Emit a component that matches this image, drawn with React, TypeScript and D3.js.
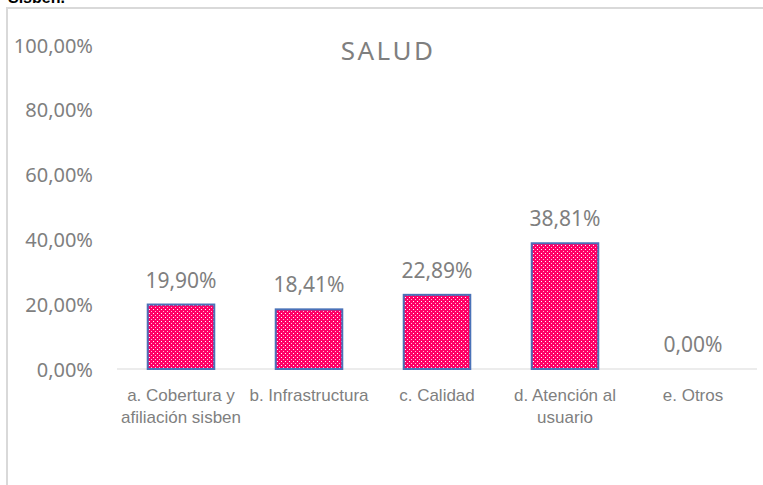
import React, { useEffect, useRef } from 'react';
import * as d3 from 'd3';

const categories = [
  'a. Cobertura y afiliación sisben',
  'b. Infrastructura',
  'c. Calidad',
  'd. Atención al usuario',
  'e. Otros'
];
const values = [19.9, 18.41, 22.89, 38.81, 0];
const yTicks = [0, 20, 40, 60, 80, 100];

const W = 763;
const H = 485;

const fmt = (v: number) => v.toFixed(2).replace('.', ',') + '%';

const App: React.FC = () => {
  const svgRef = useRef<SVGSVGElement>(null);

  useEffect(() => {
    if (!svgRef.current) return;
    const svg = d3.select(svgRef.current);
    svg.selectAll('*').remove();

    // dotted fill like the Excel pattern
    const defs = svg.append('defs');
    const pat = defs.append('pattern')
      .attr('id', 'dots')
      .attr('width', 4)
      .attr('height', 4)
      .attr('patternUnits', 'userSpaceOnUse');
    pat.append('rect').attr('width', 4).attr('height', 4).attr('fill', '#ff0066');
    pat.append('rect').attr('x', 1).attr('y', 1).attr('width', 1).attr('height', 1).attr('fill', '#ffffff');
    pat.append('rect').attr('x', 3).attr('y', 3).attr('width', 1).attr('height', 1).attr('fill', '#ffc2da');

    // cut-off text from the page above
    svg.append('text')
      .attr('x', 8)
      .attr('y', 3)
      .style('font-family', 'Liberation Sans, Arial, sans-serif')
      .style('font-size', '16px')
      .style('font-weight', 'bold')
      .style('fill', '#000')
      .text('Sisben.');

    // chart frame
    svg.append('rect')
      .attr('x', 7)
      .attr('y', 8)
      .attr('width', 770)
      .attr('height', 500)
      .attr('fill', 'none')
      .attr('stroke', '#d9d9d9')
      .attr('stroke-width', 2);

    const x = d3.scaleBand<string>()
      .domain(categories)
      .range([117, 757])
      .paddingInner(0.48)
      .paddingOuter(0.24);

    const y = d3.scaleLinear()
      .domain([0, 100])
      .range([369, 45]);

    // title
    svg.append('text')
      .attr('x', 388)
      .attr('y', 60)
      .attr('text-anchor', 'middle')
      .style('font-family', 'Noto Sans, sans-serif')
      .style('font-size', '26px')
      .style('letter-spacing', '2.5px')
      .style('fill', '#7f7f7f')
      .text('SALUD');

    // y axis labels
    const yAxis = svg.append('g')
      .attr('transform', 'translate(93,0)')
      .call(d3.axisLeft(y).tickValues(yTicks).tickSize(0).tickPadding(0).tickFormat(d => fmt(+d)));
    yAxis.select('.domain').remove();
    yAxis.selectAll('text')
      .attr('dy', '0.35em')
      .style('font-family', 'Noto Sans, sans-serif')
      .style('font-size', '20px')
      .style('fill', '#7f7f7f');

    // baseline
    svg.append('line')
      .attr('x1', 117)
      .attr('x2', 757)
      .attr('y1', y(0))
      .attr('y2', y(0))
      .attr('stroke', '#d9d9d9')
      .attr('stroke-width', 1);

    // bars
    svg.selectAll('.bar')
      .data(values)
      .enter().append('rect')
      .attr('class', 'bar')
      .attr('x', (d, i) => x(categories[i])!)
      .attr('y', d => y(d))
      .attr('width', x.bandwidth())
      .attr('height', d => y(0) - y(d))
      .attr('fill', 'url(#dots)')
      .attr('stroke', '#4a72b8')
      .attr('stroke-width', d => (d > 0 ? 2 : 0));

    // value labels
    svg.selectAll('.val')
      .data(values)
      .enter().append('text')
      .attr('class', 'val')
      .attr('x', (d, i) => x(categories[i])! + x.bandwidth() / 2)
      .attr('y', d => y(d) - 17)
      .attr('text-anchor', 'middle')
      .style('font-family', 'Noto Sans, sans-serif')
      .style('font-size', '21px')
      .style('fill', '#7f7f7f')
      .text(d => fmt(d));

    // category labels, wrapped
    const step = x.step();
    categories.forEach(c => {
      const cx = x(c)! + x.bandwidth() / 2;
      const t = svg.append('text')
        .attr('x', cx)
        .attr('y', 401)
        .attr('text-anchor', 'middle')
        .style('font-family', 'Liberation Sans Narrow, Liberation Sans, sans-serif')
        .style('font-size', '17px')
        .style('fill', '#7f7f7f');
      const words = c.split(' ');
      let line: string[] = [];
      let lineNo = 0;
      let tspan = t.append('tspan').attr('x', cx).attr('y', 401);
      words.forEach(w => {
        line.push(w);
        tspan.text(line.join(' '));
        if ((tspan.node() as SVGTSpanElement).getComputedTextLength() > step - 2 && line.length > 1) {
          line.pop();
          tspan.text(line.join(' '));
          line = [w];
          lineNo += 1;
          tspan = t.append('tspan').attr('x', cx).attr('y', 401 + lineNo * 22).text(w);
        }
      });
    });
  }, []);

  return (
    <svg
      ref={svgRef}
      width={W}
      height={H}
      style={{ position: 'absolute', left: 0, top: 0, background: '#fff' }}
    />
  );
};

export default App;
